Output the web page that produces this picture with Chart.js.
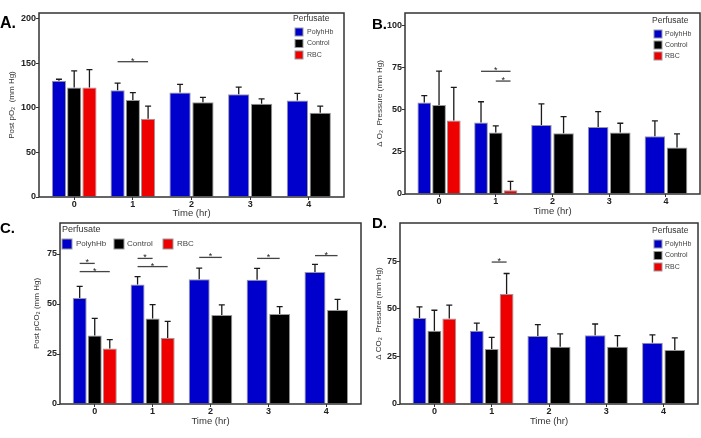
<!DOCTYPE html>
<html lang="en">
<head>
    <meta charset="UTF-8">
    <title>Perfusate gas exchange</title>
    <script src="https://cdn.jsdelivr.net/npm/chart.js"></script>
    <style>
        body {
            margin: 0;
            background: #fff;
            width: 701px;
            height: 438px;
            position: relative;
            overflow: hidden;
            font-family: "Liberation Sans", Arial, sans-serif;
        }
        canvas { position: absolute; }
        .tag {
            position: absolute;
            font-weight: bold;
            font-size: 15px;
            line-height: 15px;
            color: #000;
        }
    </style>
</head>
<body>
    <canvas id="chartA" width="348" height="220" style="left:0;top:0"></canvas>
    <canvas id="chartB" width="349" height="220" style="left:352px;top:0"></canvas>
    <canvas id="chartC" width="364" height="224" style="left:0;top:214px"></canvas>
    <canvas id="chartD" width="349" height="224" style="left:352px;top:214px"></canvas>
    <div class="tag" style="left:0;top:15px;font-size:16px;line-height:16px">A.</div>
    <div class="tag" style="left:372px;top:16px">B.</div>
    <div class="tag" style="left:0;top:220px">C.</div>
    <div class="tag" style="left:372px;top:215px">D.</div>

    <script>
        Chart.defaults.font.family = '"Liberation Sans", Arial, sans-serif';
        Chart.defaults.color = '#333';
        Chart.defaults.animation = false;

        const times = ['0', '1', '2', '3', '4'];
        const seriesNames = ['PolyhHb', 'Control', 'RBC'];
        const seriesColors = ['#0000cd', '#000000', '#ee0000'];

        // A. Post pO2 (mm Hg)
        const pO2Polyhb = [130.5, 120, 117.5, 115.5, 108.5];
        const pO2PolyhbErr = [1.8, 7.9, 9, 7.9, 7.9];
        const pO2Control = [123, 109, 106.5, 104.7, 94.6];
        const pO2ControlErr = [18.7, 8.2, 5.5, 5.6, 7.4];
        const pO2Rbc = [123, 88, null, null, null];
        const pO2RbcErr = [20, 14, null, null, null];
        // [time index, series from, series to, height]
        const pO2Sig = [[1, 0, 2, 152]];

        // B. delta O2 pressure (mm Hg)
        const dO2Polyhb = [54.5, 42.5, 41.1, 39.9, 34.4];
        const dO2PolyhbErr = [4, 12.4, 12.5, 9.1, 9.1];
        const dO2Control = [53, 36.6, 36.2, 36.6, 27.7];
        const dO2ControlErr = [20.1, 3.9, 9.8, 5.5, 8.1];
        const dO2Rbc = [43.7, 2.2, null, null, null];
        const dO2RbcErr = [19.7, 5.3, null, null, null];
        const dO2Sig = [[1, 0, 2, 73], [1, 1, 2, 67.2]];

        // C. Post pCO2 (mm Hg)
        const pCO2Polyhb = [53, 59.7, 62.4, 62.1, 66];
        const pCO2PolyhbErr = [5.8, 4, 5.5, 5.7, 3.8];
        const pCO2Control = [34.2, 42.8, 44.5, 45, 47];
        const pCO2ControlErr = [8.6, 6.9, 5.1, 3.7, 5.3];
        const pCO2Rbc = [27.8, 33, null, null, null];
        const pCO2RbcErr = [4.4, 8.3, null, null, null];
        const pCO2Sig = [[0, 0, 1, 70.3], [0, 0, 2, 66.2], [1, 0, 1, 72.8], [1, 0, 2, 68.7],
                         [2, 0, 1, 73.3], [3, 0, 1, 72.8], [4, 0, 1, 74.2]];

        // D. delta CO2 pressure (mm Hg)
        const dCO2Polyhb = [45.2, 38.5, 35.7, 36.1, 32.2];
        const dCO2PolyhbErr = [5.8, 3.9, 6, 5.9, 4.1];
        const dCO2Control = [38.5, 28.9, 30.1, 30.1, 28.4];
        const dCO2ControlErr = [10.7, 6.1, 6.7, 5.8, 6.3];
        const dCO2Rbc = [44.9, 57.8, null, null, null];
        const dCO2RbcErr = [7, 10.7, null, null, null];
        const dCO2Sig = [[1, 1, 2, 74.5]];

        // error bars, significance bars, panel frame and legend
        const extras = {
            id: 'extras',
            afterDatasetsDraw(chart, args, opts) {
                const ctx = chart.ctx;
                const y = chart.scales.y;
                const a = chart.chartArea;
                ctx.save();

                ctx.strokeStyle = '#1a1a1a';
                ctx.lineWidth = 1.3;
                chart.data.datasets.forEach((ds, i) => {
                    chart.getDatasetMeta(i).data.forEach((bar, j) => {
                        if (ds.data[j] == null) return;
                        const y0 = y.getPixelForValue(ds.data[j]);
                        const y1 = y.getPixelForValue(ds.data[j] + ds.errors[j]);
                        ctx.beginPath();
                        ctx.moveTo(bar.x, y0);
                        ctx.lineTo(bar.x, y1);
                        ctx.moveTo(bar.x - 3, y1);
                        ctx.lineTo(bar.x + 3, y1);
                        ctx.stroke();
                    });
                });

                ctx.strokeStyle = '#444';
                ctx.fillStyle = '#222';
                ctx.font = '9px "Liberation Sans", Arial, sans-serif';
                ctx.textAlign = 'center';
                ctx.textBaseline = 'alphabetic';
                opts.sig.forEach(([g, s1, s2, v]) => {
                    const x1 = chart.getDatasetMeta(s1).data[g].x;
                    const x2 = chart.getDatasetMeta(s2).data[g].x;
                    const py = y.getPixelForValue(v);
                    ctx.beginPath();
                    ctx.moveTo(x1, py);
                    ctx.lineTo(x2, py);
                    ctx.stroke();
                    ctx.fillText('*', (x1 + x2) / 2, py + 2);
                });

                ctx.strokeStyle = '#333';
                ctx.lineWidth = 1.5;
                ctx.strokeRect(a.left, a.top, a.right - a.left, a.bottom - a.top);

                const lg = opts.legend;
                ctx.textAlign = 'left';
                ctx.textBaseline = 'middle';
                ctx.fillStyle = '#333';
                ctx.font = lg.titleSize + 'px "Liberation Sans", Arial, sans-serif';
                ctx.fillText('Perfusate', lg.title[0], lg.title[1]);
                ctx.font = lg.size + 'px "Liberation Sans", Arial, sans-serif';
                ctx.lineWidth = 1;
                lg.items.forEach(([bx, cy, tx], i) => {
                    ctx.fillStyle = seriesColors[i];
                    ctx.fillRect(bx, cy - lg.box / 2, lg.box, lg.box);
                    ctx.strokeStyle = '#999';
                    ctx.strokeRect(bx, cy - lg.box / 2, lg.box, lg.box);
                    ctx.fillStyle = '#444';
                    ctx.fillText(seriesNames[i], tx, cy);
                });
                ctx.restore();
            }
        };

        function makeSets(vals, errs) {
            return vals.map((v, i) => ({
                label: seriesNames[i],
                data: v,
                errors: errs[i],
                backgroundColor: seriesColors[i],
                borderColor: '#999',
                borderWidth: 1,
                categoryPercentage: 0.78,
                barPercentage: 0.93,
                skipNull: true
            }));
        }

        function makePanel(id, o) {
            return new Chart(document.getElementById(id), {
                type: 'bar',
                data: { labels: times, datasets: makeSets(o.vals, o.errs) },
                options: {
                    responsive: false,
                    layout: { padding: { top: o.pad[0], right: o.pad[1], bottom: 0, left: 0 } },
                    plugins: {
                        legend: { display: false },
                        tooltip: { enabled: false },
                        extras: { sig: o.sig, legend: o.legend }
                    },
                    scales: {
                        x: {
                            offset: false,
                            grid: { offset: false, drawOnChartArea: false, tickLength: 3, color: '#333' },
                            border: { display: false },
                            ticks: { font: { size: 9, weight: 'bold' }, color: '#222', padding: -1, maxRotation: 0 },
                            title: { display: true, text: 'Time (hr)', font: { size: 9.5 }, color: '#333',
                                     padding: { top: 0, bottom: o.xTitlePad } },
                            afterBuildTicks: s => { s._startValue = -0.6; s._valueRange = 5.2; },
                            afterFit: s => { s.height = o.xHeight; }
                        },
                        y: {
                            min: 0,
                            max: o.max,
                            grid: { drawOnChartArea: false, tickLength: 3, color: '#333' },
                            border: { display: false },
                            ticks: { stepSize: o.step, includeBounds: false, font: { size: 9, weight: 'bold' },
                                     color: '#222', padding: 0 },
                            title: { display: true, text: o.yTitle, font: { size: 8 }, color: '#333',
                                     padding: { top: o.yTitlePad, bottom: 0 } },
                            afterFit: s => { s.width = o.yWidth; }
                        }
                    }
                },
                plugins: [extras]
            });
        }

        makePanel('chartA', {
            vals: [pO2Polyhb, pO2Control, pO2Rbc],
            errs: [pO2PolyhbErr, pO2ControlErr, pO2RbcErr],
            sig: pO2Sig, max: 206.7, step: 50,
            yTitle: 'Post pO₂  (mm Hg)', yTitlePad: 6.5, yWidth: 39,
            pad: [13, 4], xHeight: 23, xTitlePad: 1,
            legend: { title: [293, 19], titleSize: 8.5, size: 7, box: 8,
                      items: [[295, 32, 307], [295, 43.5, 307], [295, 55, 307]] }
        });

        makePanel('chartB', {
            vals: [dO2Polyhb, dO2Control, dO2Rbc],
            errs: [dO2PolyhbErr, dO2ControlErr, dO2RbcErr],
            sig: dO2Sig, max: 107.7, step: 25,
            yTitle: 'Δ O₂  Pressure (mm Hg)', yTitlePad: 23, yWidth: 53,
            pad: [13, 1], xHeight: 26, xTitlePad: 2.5,
            legend: { title: [300, 21], titleSize: 8.5, size: 7, box: 8,
                      items: [[302, 34, 313], [302, 45, 313], [302, 56, 313]] }
        });

        makePanel('chartC', {
            vals: [pCO2Polyhb, pCO2Control, pCO2Rbc],
            errs: [pCO2PolyhbErr, pCO2ControlErr, pCO2RbcErr],
            sig: pCO2Sig, max: 90.5, step: 25,
            yTitle: 'Post pCO₂ (mm Hg)', yTitlePad: 32, yWidth: 60,
            pad: [9, 3], xHeight: 34, xTitlePad: 10.6,
            legend: { title: [62, 16], titleSize: 9, size: 8, box: 10,
                      items: [[62, 30, 76], [114, 30, 127], [163, 30, 177]] }
        });

        makePanel('chartD', {
            vals: [dCO2Polyhb, dCO2Control, dCO2Rbc],
            errs: [dCO2PolyhbErr, dCO2ControlErr, dCO2RbcErr],
            sig: dCO2Sig, max: 95, step: 25,
            yTitle: 'Δ CO₂  Pressure (mm Hg)', yTitlePad: 22, yWidth: 48,
            pad: [9, 3], xHeight: 34, xTitlePad: 11.3,
            legend: { title: [300, 17], titleSize: 8.5, size: 7, box: 8,
                      items: [[302, 30, 313], [302, 41.5, 313], [302, 53, 313]] }
        });
    </script>
</body>
</html>
